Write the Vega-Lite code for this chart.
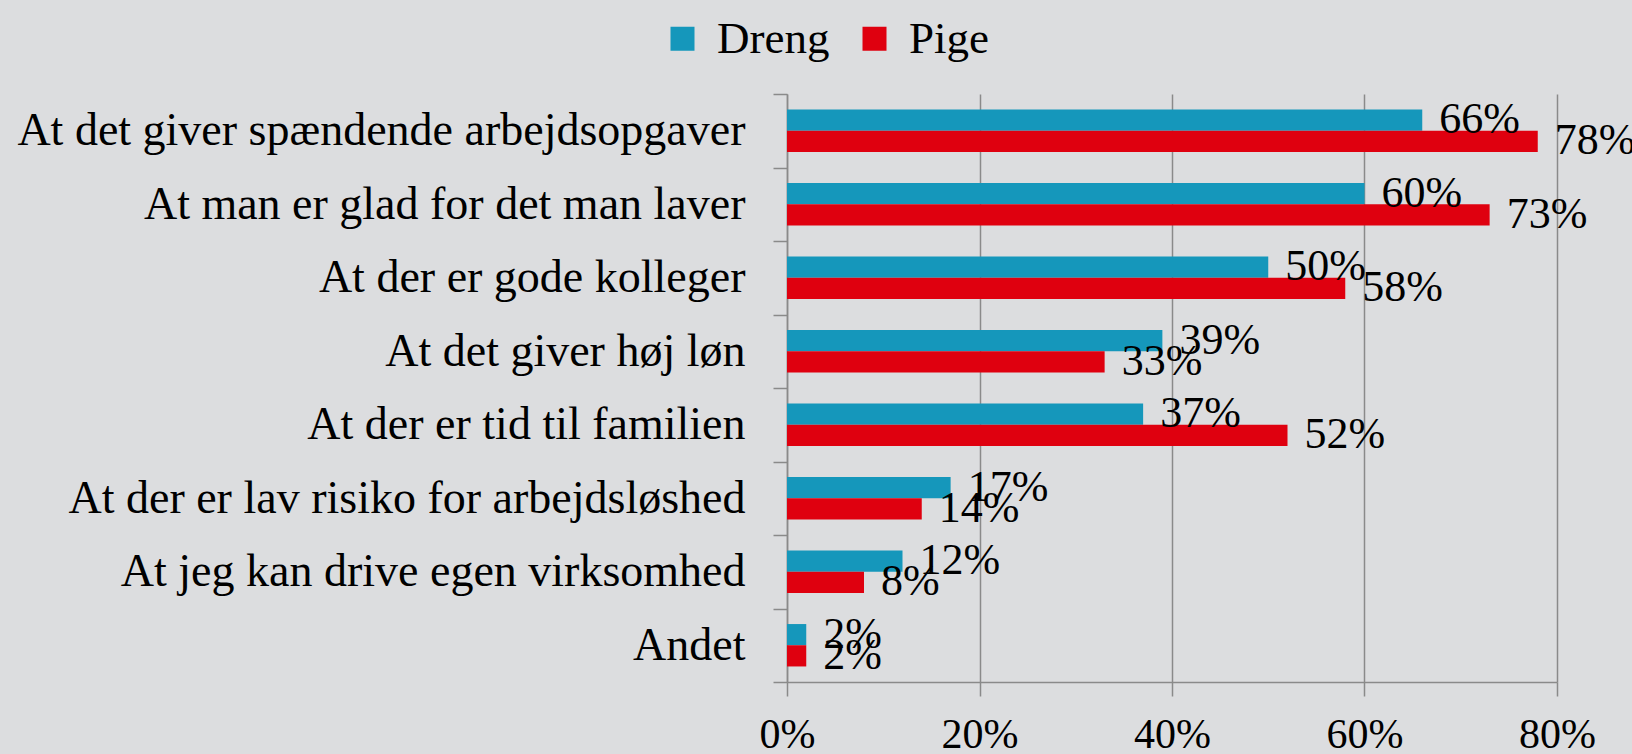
{
  "$schema": "https://vega.github.io/schema/vega-lite/v6.json",
  "autosize": {"type": "none"},
  "padding": {"left": 787, "top": 94, "right": 75, "bottom": 72},
  "width": 770,
  "height": 588,
  "background": "#dcdddf",
  "config": {
    "font": "Liberation Serif",
    "view": {"stroke": null}
  },
  "data": {
    "values": [
      {"item": "At det giver spændende arbejdsopgaver", "gender": "Dreng", "value": 0.66},
      {"item": "At det giver spændende arbejdsopgaver", "gender": "Pige", "value": 0.78},
      {"item": "At man er glad for det man laver", "gender": "Dreng", "value": 0.60},
      {"item": "At man er glad for det man laver", "gender": "Pige", "value": 0.73},
      {"item": "At der er gode kolleger", "gender": "Dreng", "value": 0.50},
      {"item": "At der er gode kolleger", "gender": "Pige", "value": 0.58},
      {"item": "At det giver høj løn", "gender": "Dreng", "value": 0.39},
      {"item": "At det giver høj løn", "gender": "Pige", "value": 0.33},
      {"item": "At der er tid til familien", "gender": "Dreng", "value": 0.37},
      {"item": "At der er tid til familien", "gender": "Pige", "value": 0.52},
      {"item": "At der er lav risiko for arbejdsløshed", "gender": "Dreng", "value": 0.17},
      {"item": "At der er lav risiko for arbejdsløshed", "gender": "Pige", "value": 0.14},
      {"item": "At jeg kan drive egen virksomhed", "gender": "Dreng", "value": 0.12},
      {"item": "At jeg kan drive egen virksomhed", "gender": "Pige", "value": 0.08},
      {"item": "Andet", "gender": "Dreng", "value": 0.02},
      {"item": "Andet", "gender": "Pige", "value": 0.02}
    ]
  },
  "encoding": {
    "y": {
      "field": "item", "type": "nominal", "sort": null,
      "scale": {"paddingInner": 0, "paddingOuter": 0},
      "axis": {
        "title": null, "tickBand": "extent", "tickSize": 14, "tickColor": "#8a8a8a", "tickWidth": 1.5,
        "domainColor": "#8a8a8a", "domainWidth": 1.5, "labelFontSize": 46, "labelColor": "#000000",
        "labelPadding": 28, "labelLimit": 900, "grid": false
      }
    },
    "yOffset": {
      "field": "gender", "type": "nominal",
      "scale": {"domain": ["Dreng", "Pige"], "paddingInner": 0, "paddingOuter": 0.733}
    },
    "x": {
      "field": "value", "type": "quantitative",
      "scale": {"domain": [0, 0.8], "nice": false},
      "axis": {
        "title": null, "format": ".0%", "values": [0, 0.2, 0.4, 0.6, 0.8], "tickSize": 14,
        "tickColor": "#8a8a8a", "tickWidth": 1.5, "domainColor": "#8a8a8a", "domainWidth": 1.5,
        "grid": true, "gridColor": "#8a8a8a", "gridWidth": 1.5,
        "labelFontSize": 42, "labelColor": "#000000", "labelPadding": 18, "labelFlush": false
      }
    }
  },
  "layer": [
    {
      "mark": {"type": "bar"},
      "encoding": {
        "color": {
          "field": "gender", "type": "nominal",
          "scale": {"domain": ["Dreng", "Pige"], "range": ["#1597bb", "#df000f"]},
          "legend": {
            "title": null, "orient": "none", "direction": "horizontal", "padding": 0,
            "legendX": -127, "legendY": -78,
            "symbolType": "square", "symbolSize": 576, "symbolStrokeWidth": 0,
            "labelFontSize": 45, "labelColor": "#000000", "labelOffset": 12, "columnPadding": 22
          }
        }
      }
    },
    {
      "mark": {"type": "text", "align": "left", "baseline": "middle", "dx": 17, "fontSize": 44, "color": "#000000"},
      "encoding": {
        "text": {"field": "value", "type": "quantitative", "format": ".0%"}
      }
    }
  ]
}
